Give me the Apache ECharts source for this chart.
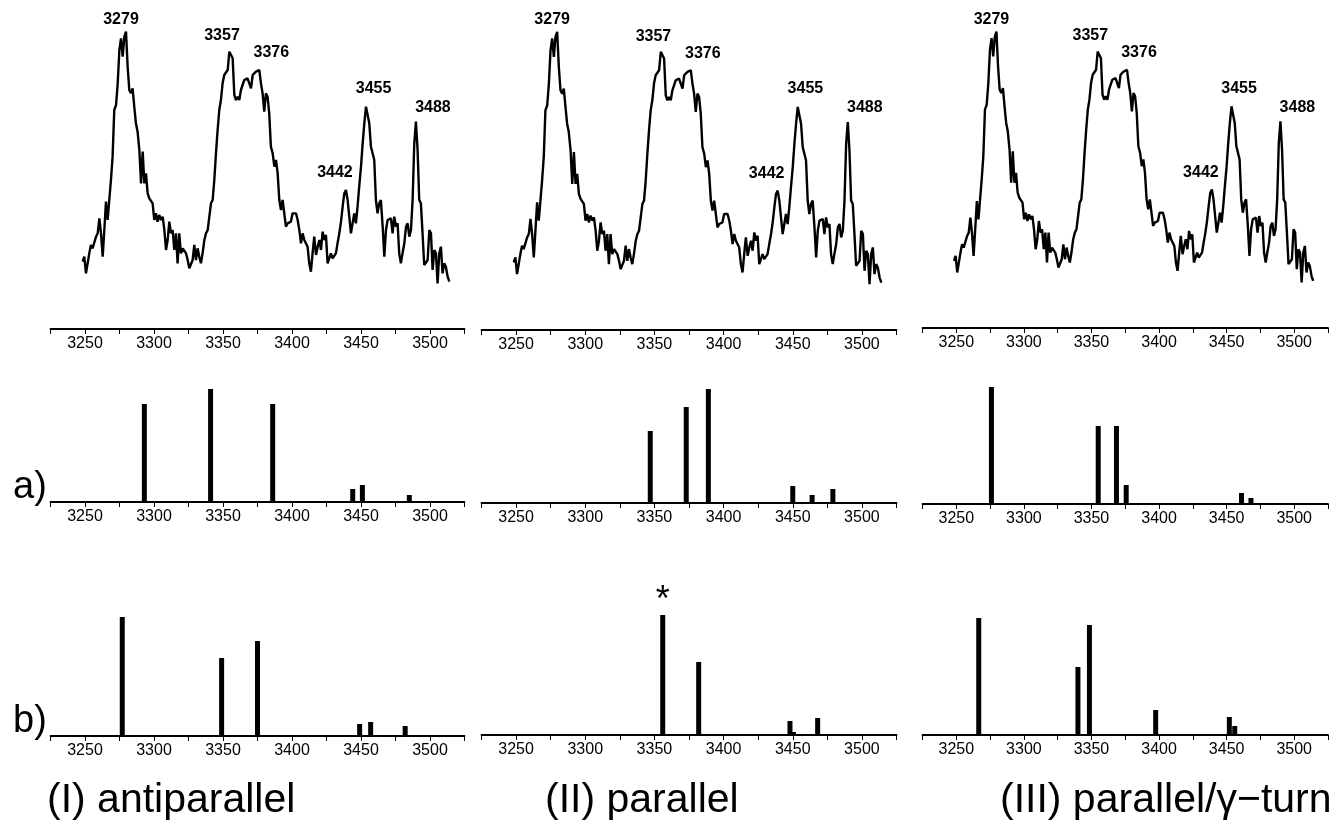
<!DOCTYPE html>
<html>
<head>
<meta charset="utf-8">
<title>NH stretch spectra</title>
<script src="https://cdn.jsdelivr.net/npm/echarts@6.0.0/dist/echarts.min.js"></script>
<style>
  html, body { margin: 0; padding: 0; background: #fff; }
  #chart { width: 1331px; height: 838px; }
</style>
</head>
<body>
<div id="chart"></div>
<script>
// measured spectrum, same trace shown above each structure
const wavenumbers = [
  3248.3, 3249.5, 3250.7, 3251.9, 3253.1, 3254.3, 3255.5, 3256.8, 3258.0, 3259.2,
  3260.4, 3261.6, 3262.8, 3264.0, 3265.2, 3266.4, 3267.6, 3268.8, 3270.0, 3271.2,
  3272.5, 3273.7, 3274.9, 3276.1, 3277.3, 3278.5, 3279.7, 3280.9, 3282.1, 3283.3,
  3284.5, 3285.7, 3286.9, 3288.1, 3289.4, 3290.6, 3291.8, 3293.0, 3294.2, 3295.4,
  3296.6, 3297.8, 3299.0, 3300.2, 3301.4, 3302.6, 3303.8, 3305.1, 3306.3, 3307.5,
  3308.7, 3309.9, 3311.1, 3312.3, 3313.5, 3314.7, 3315.9, 3317.1, 3318.3, 3319.5,
  3320.8, 3322.0, 3323.2, 3324.4, 3325.6, 3326.8, 3328.0, 3329.2, 3330.4, 3331.6,
  3332.8, 3334.0, 3335.2, 3336.5, 3337.7, 3338.9, 3340.1, 3341.3, 3342.5, 3343.7,
  3344.9, 3346.1, 3347.3, 3348.5, 3349.7, 3350.9, 3352.1, 3353.4, 3354.6, 3355.8,
  3357.0, 3358.2, 3359.4, 3360.6, 3361.8, 3363.0, 3364.2, 3365.4, 3366.6, 3367.8,
  3369.1, 3370.3, 3371.5, 3372.7, 3373.9, 3375.1, 3376.3, 3377.5, 3378.7, 3379.9,
  3381.1, 3382.3, 3383.5, 3384.7, 3386.0, 3387.2, 3388.4, 3389.6, 3390.8, 3392.0,
  3393.2, 3394.4, 3395.6, 3396.8, 3398.0, 3399.2, 3400.4, 3401.6, 3402.9, 3404.1,
  3405.3, 3406.5, 3407.7, 3408.9, 3410.1, 3411.3, 3412.5, 3413.7, 3414.9, 3416.1,
  3417.4, 3418.6, 3419.8, 3421.0, 3422.2, 3423.4, 3424.6, 3425.8, 3427.0, 3428.2,
  3429.4, 3430.6, 3431.8, 3433.0, 3434.3, 3435.5, 3436.7, 3437.9, 3439.1, 3440.3,
  3441.5, 3442.7, 3443.9, 3445.1, 3446.3, 3447.5, 3448.7, 3450.0, 3451.2, 3452.4,
  3453.6, 3454.8, 3456.0, 3457.2, 3458.4, 3459.6, 3460.8, 3462.0, 3463.2, 3464.4,
  3465.7, 3466.9, 3468.1, 3469.3, 3470.5, 3471.7, 3472.9, 3474.1, 3475.3, 3476.5,
  3477.7, 3478.9, 3480.1, 3481.4, 3482.6, 3483.8, 3485.0, 3486.2, 3487.4, 3488.6,
  3489.8, 3491.0, 3492.2, 3493.4, 3494.6, 3495.8, 3497.1, 3498.3, 3499.5, 3500.7,
  3501.9, 3503.1, 3504.3, 3505.5, 3506.7, 3507.9, 3509.1, 3510.3, 3511.5, 3512.8,
  3514.0
];
const intensity = [
  11.5, 13.0, 8.0, 7.5, 14.0, 16.5, 15.5, 16.0, 19.0, 20.0,
  24.5, 20.0, 13.0, 21.0, 29.5, 24.0, 30.0, 36.0, 43.0, 57.0,
  58.5, 65.0, 75.0, 78.5, 73.0, 79.0, 80.5, 70.0, 63.0, 62.0,
  63.5, 58.0, 53.0, 50.5, 45.0, 35.0, 44.5, 35.0, 38.0, 32.0,
  30.5, 30.0, 29.0, 24.0, 26.0, 23.5, 25.5, 24.0, 25.0, 21.0,
  15.0, 18.0, 23.5, 20.0, 21.0, 15.0, 20.0, 11.0, 20.0, 14.0,
  15.5, 15.0, 14.0, 12.0, 9.5, 9.5, 12.0, 16.5, 12.0, 15.5,
  13.0, 11.0, 14.0, 18.0, 20.0, 21.0, 25.0, 29.0, 30.0, 36.0,
  44.0, 51.0, 57.0, 60.0, 65.0, 67.5, 67.0, 69.0, 74.5, 75.0,
  72.5, 61.5, 60.0, 61.0, 60.0, 63.0, 64.5, 66.0, 65.5, 66.5,
  66.0, 63.5, 67.5, 67.0, 68.5, 68.5, 69.0, 65.0, 62.0, 56.5,
  62.0, 61.0, 56.0, 46.0, 44.0, 40.0, 42.0, 38.0, 30.0, 27.0,
  30.0, 26.0, 22.0, 23.0, 23.5, 23.5, 26.0, 26.5, 26.0, 24.0,
  21.0, 17.0, 20.0, 18.0, 17.5, 16.0, 11.0, 8.5, 14.0, 19.0,
  13.5, 16.0, 18.0, 15.0, 20.5, 18.0, 19.5, 11.0, 12.5, 14.0,
  12.5, 13.0, 14.0, 17.0, 20.0, 23.5, 28.0, 32.0, 33.0, 30.0,
  25.0, 20.0, 23.0, 26.0, 23.0, 28.0, 34.0, 40.0, 47.0, 53.0,
  58.0, 58.0, 53.0, 46.0, 44.0, 42.0, 30.0, 26.0, 29.0, 30.0,
  22.0, 13.0, 21.0, 24.0, 24.0, 24.5, 20.0, 25.0, 22.0, 23.0,
  14.0, 11.0, 14.0, 17.0, 22.0, 23.0, 19.0, 21.0, 30.0, 47.0,
  53.5, 45.0, 30.0, 29.0, 20.0, 10.5, 11.0, 12.0, 21.0, 20.0,
  9.0, 15.0, 14.0, 5.0, 14.0, 16.0, 8.0, 11.0, 10.0, 7.0,
  5.5
];

// labelled band maxima
const peakNames = ['3279', '3357', '3376', '3442', '3455', '3488'];
const peakX = [3279.7, 3355.8, 3376.3, 3439.1, 3454.8, 3489.8];
const peakY = [80.5, 75.0, 69.0, 33.0, 58.0, 53.5];

// computed stick spectra, row a)
const posA1 = [3293, 3341, 3386, 3444, 3451, 3485];
const intA1 = [98, 113, 98, 13, 17, 7];
const posA2 = [3347, 3373, 3389, 3450, 3464, 3479];
const intA2 = [72, 96, 114, 17, 8, 14];
const posA3 = [3276, 3355, 3368.5, 3375.7, 3461, 3468];
const intA3 = [117, 78, 78, 19, 11, 6];

// computed stick spectra, row b)
const posB1 = [3277, 3349, 3375, 3449, 3457, 3482];
const intB1 = [119, 78, 95, 12, 14, 10];
const posB2 = [3356, 3382, 3448, 3450.5, 3468];
const intB2 = [120, 73, 14, 3, 17];
const posB3 = [3266.6, 3340, 3348.5, 3397.5, 3452, 3456];
const intB3 = [117, 68, 110, 25, 18, 9];
const starredB2 = 3356;

const tickLabels = [3250, 3300, 3350, 3400, 3450, 3500];
const panelTitles = ['(I) antiparallel', '(II) parallel', '(III) parallel/γ−turn'];
const rowLabels = ['a)', 'b)'];

// layout (px)
const FONT = "'Liberation Sans', Arial, sans-serif";
const colLeft = [50.5, 481.5, 922.5];
const colWidth = [414, 415, 415];
const specAxisY = [329, 330, 328];
const rowAAxisY = [502, 503, 504];
const rowBAxisY = [736, 735, 735];
const stickHeight = 125;
const labelOffsets = [[-5, -12], [-9, -14], [12, -17], [-11, -17], [6, -18], [17, -14]];
const titleLeft = [47, 545, 1000];

const stickPos = [[posA1, posA2, posA3], [posB1, posB2, posB3]];
const stickInt = [[intA1, intA2, intA3], [intB1, intB2, intB3]];

const chart = echarts.init(document.getElementById('chart'));

function xAxisFor(gridIndex) {
  return {
    type: 'value',
    gridIndex: gridIndex,
    min: 3225,
    max: 3525,
    interval: 25,
    axisLine: { onZero: false, lineStyle: { color: '#000', width: 1.8 } },
    axisTick: { show: true, inside: false, length: 5, lineStyle: { color: '#000', width: 1 } },
    axisLabel: {
      margin: 7,
      color: '#000',
      fontSize: 16,
      fontFamily: FONT,
      formatter: v => (tickLabels.indexOf(v) >= 0 ? String(v) : '')
    },
    splitLine: { show: false }
  };
}

const grids = [];
const xAxes = [];
const yAxes = [];
const series = [];

for (let c = 0; c < 3; c++) {
  // experimental trace
  const gSpec = grids.length;
  grids.push({ left: colLeft[c], width: colWidth[c], top: 0, height: specAxisY[c] });
  xAxes.push(xAxisFor(gSpec));
  yAxes.push({ type: 'value', gridIndex: gSpec, show: false, min: -8.7, max: 90 });
  series.push({
    type: 'line',
    xAxisIndex: gSpec,
    yAxisIndex: gSpec,
    showSymbol: false,
    symbol: 'none',
    smooth: false,
    lineStyle: { color: '#000', width: 2.4 },
    data: wavenumbers.map((w, i) => [w, intensity[i]])
  });
  series.push({
    type: 'scatter',
    xAxisIndex: gSpec,
    yAxisIndex: gSpec,
    symbol: 'circle',
    symbolSize: 1,
    itemStyle: { color: 'rgba(0,0,0,0)' },
    silent: true,
    z: 5,
    data: peakNames.map((n, i) => ({
      name: n,
      value: [peakX[i], peakY[i]],
      label: {
        show: true,
        position: 'inside',
        offset: labelOffsets[i],
        formatter: '{b}',
        color: '#000',
        textBorderWidth: 0,
        opacity: 1,
        fontSize: 16,
        fontWeight: 'bold',
        fontFamily: FONT
      }
    }))
  });

  // stick spectra rows a) and b)
  for (let r = 0; r < 2; r++) {
    const g = grids.length;
    const axisY = r === 0 ? rowAAxisY[c] : rowBAxisY[c];
    grids.push({ left: colLeft[c], width: colWidth[c], top: axisY - stickHeight, height: stickHeight });
    xAxes.push(xAxisFor(g));
    yAxes.push({ type: 'value', gridIndex: g, show: false, min: 0, max: stickHeight });
    const pos = stickPos[r][c];
    const ints = stickInt[r][c];
    series.push({
      type: 'bar',
      xAxisIndex: g,
      yAxisIndex: g,
      barWidth: 5,
      itemStyle: { color: '#000' },
      data: pos.map((p, i) => {
        const item = { value: [p, ints[i]] };
        if (r === 1 && c === 1 && p === starredB2) {
          item.label = {
            show: true,
            position: 'top',
            distance: -4,
            formatter: '*',
            color: '#000',
            fontSize: 36,
            fontFamily: FONT
          };
        }
        return item;
      })
    });
  }
}

const graphics = [];
rowLabels.forEach((t, r) => {
  graphics.push({
    type: 'text',
    left: 13,
    top: r === 0 ? 469 : 703,
    style: { text: t, fill: '#000', font: '38px ' + FONT }
  });
});
panelTitles.forEach((t, c) => {
  graphics.push({
    type: 'text',
    left: titleLeft[c],
    top: 780,
    style: { text: t, fill: '#000', font: '41px ' + FONT }
  });
});

const option = {
  backgroundColor: '#fff',
  animation: false,
  grid: grids,
  xAxis: xAxes,
  yAxis: yAxes,
  series: series,
  graphic: graphics
};

chart.setOption(option);
window.addEventListener('resize', () => chart.resize());
</script>
</body>
</html>
